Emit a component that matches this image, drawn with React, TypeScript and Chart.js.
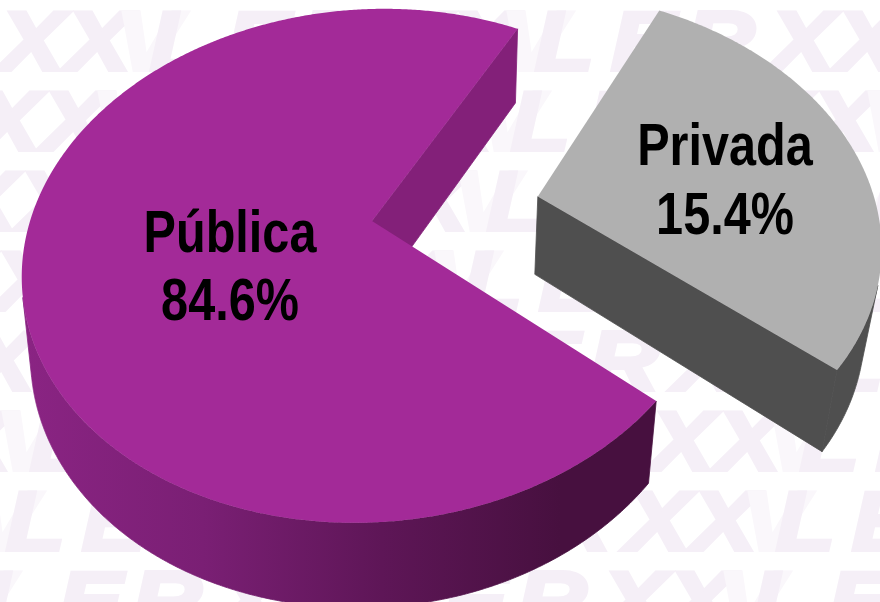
import React, { useEffect, useRef } from "react";
import { Chart, registerables } from "chart.js";

Chart.register(...registerables);

const categories = ["Pública", "Privada"];
const shares = [84.6, 15.4];
const sliceOffsets = [0, 60];
const topColors = ["#A32A98", "#B0B0B0"];
const cutColors = ["#832079", "#4F4F4F"];
const wallStops = [
  ["#8A2483", "#7A1F74", "#5E1657", "#47103F"],
  ["#4F4F4F", "#4F4F4F"],
];
const wallRange = [
  [25, 560],
  [540, 880],
];
const labelCentres = [230, 725];
const labelBaselines = [
  [252, 320],
  [165, 234],
];

type Pt = { x: number; y: number };

const DEG = Math.PI / 180;
const VIEW = { cx: 372, cy: 221, rx: 343, ry: 248.2, k: -0.1736 };
const WARP = 0.882;
const WARP_CENTRE = -10 * DEG;
const EXPLODE = 0.502;
const EXPLODE_TURN = -1.5 * DEG;
const TILT = 0.022;
const TILT_AXIS = -49 * DEG;

const project = (u: number, v: number): Pt => {
  const w = 1 + VIEW.k * v;
  return { x: VIEW.cx + (VIEW.rx * u) / w, y: VIEW.cy + (VIEW.ry * v) / w };
};
const floorOf = (p: Pt): Pt => ({
  x: p.x - (p.x > 463 ? 0.04 : 0.02) * (p.x - 463),
  y: 1.022 * p.y + 73.5,
});
const warp = (a: number) => a + WARP * Math.sin(a - WARP_CENTRE);

const tracePoly = (ctx: CanvasRenderingContext2D, pts: Pt[]) => {
  ctx.beginPath();
  pts.forEach((p, i) => (i ? ctx.lineTo(p.x, p.y) : ctx.moveTo(p.x, p.y)));
  ctx.closePath();
};

const watermark = {
  id: "watermark",
  beforeDraw(chart: any) {
    const ctx: CanvasRenderingContext2D = chart.ctx;
    const glyphs: [string, number, string][] = [
      ["X", 0, "#F5EFF7"],
      ["X", 66, "#F5EFF7"],
      ["V", 116, "#FAF7FB"],
      ["L", 150, "#F5EFF7"],
      ["E", 226, "#F5EFF7"],
      ["R", 300, "#F5EFF7"],
    ];
    const sx = 1.15;
    ctx.save();
    ctx.scale(sx, 1);
    ctx.font = "italic bold 84px 'Liberation Sans'";
    ctx.textBaseline = "alphabetic";
    ctx.textAlign = "left";
    ctx.lineWidth = 4;
    ctx.lineJoin = "miter";
    for (let row = 0; row < 8; row++) {
      const y = 70 + row * 80;
      const start = -24 * row;
      for (let rep = -1; rep < 4; rep++) {
        glyphs.forEach(([g, dx, c]) => {
          ctx.fillStyle = c;
          ctx.strokeStyle = c;
          const x = (start + rep * 385 + dx) / sx;
          ctx.strokeText(g, x, y);
          ctx.fillText(g, x, y);
        });
      }
    }
    ctx.restore();
  },
};

const pie3d = {
  id: "pie3d",
  beforeDatasetDraw() {
    return false;
  },
  afterDatasetsDraw(chart: any) {
    const ctx: CanvasRenderingContext2D = chart.ctx;
    const arcs = chart.getDatasetMeta(0).data;
    arcs.forEach((arc: any, i: number) => {
      const { startAngle, endAngle } = arc.getProps(["startAngle", "endAngle"], true);
      const mid = warp((startAngle + endAngle) / 2) + EXPLODE_TURN;
      const shift = arc.options.offset > 0 ? EXPLODE : 0;
      const ou = Math.cos(mid) * shift;
      const ov = Math.sin(mid) * shift;
      const centre = project(ou, ov);
      const rim: Pt[] = [];
      const steps = Math.ceil((endAngle - startAngle) / (0.25 * DEG));
      for (let s = 0; s <= steps; s++) {
        const a = warp(startAngle + ((endAngle - startAngle) * s) / steps);
        const r = 1 + TILT * Math.cos(2 * (a - TILT_AXIS));
        rim.push(project(ou + r * Math.cos(a), ov + r * Math.sin(a)));
      }

      // outer wall: only the rim stretch that faces the viewer
      const front: Pt[] = [];
      for (let s = 0; s < rim.length - 1; s++) {
        const p = rim[s];
        const q = rim[s + 1];
        const f = floorOf(p);
        const facing = (q.y - p.y) * (f.x - p.x) - (q.x - p.x) * (f.y - p.y);
        if (facing > 0) {
          if (!front.length) front.push(p);
          front.push(q);
        }
      }
      if (front.length > 1) {
        const [x0, x1] = wallRange[i];
        const grad = ctx.createLinearGradient(x0, 0, x1, 0);
        wallStops[i].forEach((c, n) => grad.addColorStop(n / (wallStops[i].length - 1), c));
        tracePoly(ctx, [...front, ...front.map(floorOf).reverse()]);
        ctx.fillStyle = grad;
        ctx.strokeStyle = grad;
        ctx.lineWidth = 0.8;
        ctx.fill();
        ctx.stroke();
      }

      // visible cut faces
      const drawCut = (r: Pt, wantPositive: boolean) => {
        const f = floorOf(r);
        const cross = (r.x - centre.x) * (f.y - r.y) - (r.y - centre.y) * (f.x - r.x);
        if (cross > 0 === wantPositive) {
          tracePoly(ctx, [centre, r, f, floorOf(centre)]);
          ctx.fillStyle = cutColors[i];
          ctx.strokeStyle = cutColors[i];
          ctx.lineWidth = 0.8;
          ctx.fill();
          ctx.stroke();
        }
      };
      drawCut(rim[0], false);
      drawCut(rim[rim.length - 1], true);

      // top face
      tracePoly(ctx, [centre, ...rim]);
      ctx.fillStyle = topColors[i];
      ctx.fill();
    });

    const sx = 0.81;
    ctx.save();
    ctx.scale(sx, 1);
    ctx.fillStyle = "#000000";
    ctx.textAlign = "center";
    ctx.textBaseline = "alphabetic";
    ctx.font = "bold 60px 'Liberation Sans'";
    categories.forEach((name, i) => {
      const cx = labelCentres[i] / sx;
      ctx.fillText(name, cx, labelBaselines[i][0]);
      ctx.fillText(`${shares[i].toFixed(1)}%`, cx, labelBaselines[i][1]);
    });
    ctx.restore();
  },
};

export default function App() {
  const ref = useRef<HTMLCanvasElement>(null);
  useEffect(() => {
    document.body.style.margin = "0";
    const chart = new Chart(ref.current!, {
      type: "pie",
      data: {
        labels: categories,
        datasets: [
          {
            data: shares,
            backgroundColor: topColors,
            borderWidth: 0,
            offset: sliceOffsets,
            hoverOffset: 0,
          } as any,
        ],
      },
      options: {
        responsive: false,
        animation: false,
        rotation: 107.7,
        layout: { padding: 0 },
        plugins: { legend: { display: false }, tooltip: { enabled: false } },
      },
      plugins: [watermark, pie3d],
    } as any);
    return () => chart.destroy();
  }, []);
  return (
    <div style={{ width: 880, height: 602, background: "#fff", overflow: "hidden" }}>
      <canvas ref={ref} width={880} height={602} style={{ display: "block" }} />
    </div>
  );
}
